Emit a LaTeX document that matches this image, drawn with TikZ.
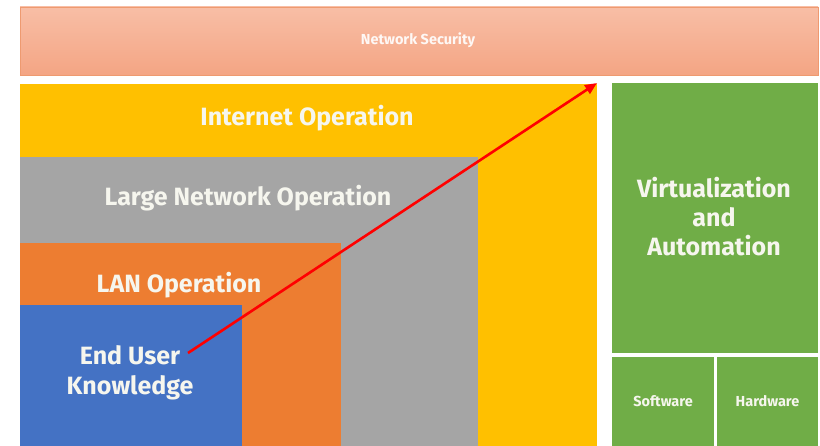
\documentclass[tikz,border=0pt]{standalone}
\usepackage{fontspec}
\setmainfont{Fira Sans}
\usetikzlibrary{arrows.meta}
\definecolor{yel}{HTML}{FFC000}
\definecolor{gry}{HTML}{A5A5A5}
\definecolor{org}{HTML}{ED7D31}
\definecolor{blu}{HTML}{4472C4}
\definecolor{grn}{HTML}{70AD47}
\definecolor{salT}{HTML}{F8BEA6}
\definecolor{salB}{HTML}{F4A584}
\definecolor{salD}{HTML}{EE9A70}
\definecolor{txt}{HTML}{F6F6EE}
\tikzset{
  box/.style={inner sep=0pt, outer sep=0pt, anchor=north west},
  lbl/.style={text=txt, font=\bfseries, align=center, inner sep=0pt},
  big/.style={lbl, font=\bfseries\fontsize{25}{30}\selectfont},
  small/.style={lbl, font=\bfseries\fontsize{14.5}{17}\selectfont},
}
\begin{document}
\begin{tikzpicture}[x=1pt,y=-1pt]
\useasboundingbox (0,0) rectangle (820,446);
\fill[white] (0,0) rectangle (820,446);
% network security
\node[box, minimum width=798pt, minimum height=68pt, top color=salT, bottom color=salB, draw=salD, line width=0.8pt] (ns) at (20,7) {};
\node[small, text=white!92!salB] (nst) at (418,40) {Network Security};
% nested boxes
\node[box, fill=yel, minimum width=577pt, minimum height=362pt] (io) at (20,84) {};
\node[box, fill=gry, minimum width=458pt, minimum height=289pt] (lno) at (20,157) {};
\node[box, fill=org, minimum width=321pt, minimum height=203pt] (lan) at (20,243) {};
\node[box, fill=blu, minimum width=222pt, minimum height=141pt] (eu) at (20,305) {};
\node[big] (iot) at (307,118) {Internet Operation};
\node[big] (lnot) at (248,198) {Large Network Operation};
\node[big] (lant) at (179,285) {LAN Operation};
\node[big] (eut) at (130,373) {End User\\Knowledge};
% green
\node[box, fill=grn, minimum width=206pt, minimum height=270pt] (va) at (612,83) {};
\node[box, fill=grn, minimum width=102pt, minimum height=89pt] (sw) at (612,357) {};
\node[box, fill=grn, minimum width=101pt, minimum height=89pt] (hw) at (717,357) {};
\node[lbl, font=\bfseries\fontsize{25}{29}\selectfont] (vat) at (714,217) {Virtualization\\and\\Automation};
\node[small] (swt) at (sw.center) {Software};
\node[small] (hwt) at (hw.center) {Hardware};
% arrow
\coordinate (a0) at (188,353);
\coordinate (a1) at (597,83);
\draw[red, line width=2.6pt, -{Triangle[length=12pt,width=10pt]}] (a0) -- (a1);
\end{tikzpicture}
\end{document}
